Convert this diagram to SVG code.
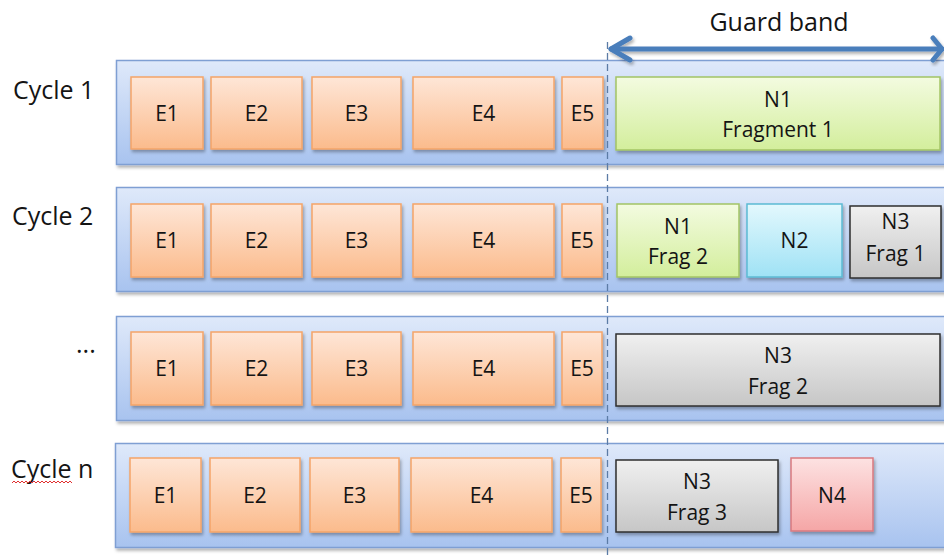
<svg xmlns="http://www.w3.org/2000/svg" width="944" height="556" viewBox="0 0 944 556">
  <defs>
    <linearGradient id="gCycle" x1="0" y1="0" x2="0" y2="1">
      <stop offset="0" stop-color="#dfe9fa"/>
      <stop offset="1" stop-color="#a8c3ef"/>
    </linearGradient>
    <linearGradient id="gE" x1="0" y1="0" x2="0" y2="1">
      <stop offset="0" stop-color="#fee6d7"/>
      <stop offset="1" stop-color="#fbbb8c"/>
    </linearGradient>
    <linearGradient id="gGreen" x1="0" y1="0" x2="0" y2="1">
      <stop offset="0" stop-color="#f3fbe0"/>
      <stop offset="1" stop-color="#d3ee9c"/>
    </linearGradient>
    <linearGradient id="gCyan" x1="0" y1="0" x2="0" y2="1">
      <stop offset="0" stop-color="#e3f8fd"/>
      <stop offset="1" stop-color="#9fe2f5"/>
    </linearGradient>
    <linearGradient id="gGray" x1="0" y1="0" x2="0" y2="1">
      <stop offset="0" stop-color="#f0f0f0"/>
      <stop offset="1" stop-color="#c6c6c6"/>
    </linearGradient>
    <linearGradient id="gPink" x1="0" y1="0" x2="0" y2="1">
      <stop offset="0" stop-color="#fde2e2"/>
      <stop offset="1" stop-color="#f5a6a6"/>
    </linearGradient>
    <filter id="shadow" x="-10%" y="-10%" width="130%" height="140%">
      <feDropShadow dx="1.5" dy="2.5" stdDeviation="1.5" flood-color="#000" flood-opacity="0.3"/>
    </filter>
    <style>
      .cycle { fill: url(#gCycle); stroke: #7f9fd3; stroke-width: 1.5; filter: url(#shadow); }
      .e { fill: url(#gE); stroke: #f5a468; stroke-width: 1.5; filter: url(#shadow); }
      .green { fill: url(#gGreen); stroke: #a3c465; stroke-width: 1.5; filter: url(#shadow); }
      .cyan { fill: url(#gCyan); stroke: #5cbad3; stroke-width: 1.5; filter: url(#shadow); }
      .gray { fill: url(#gGray); stroke: #2e2e2e; stroke-width: 1.5; filter: url(#shadow); }
      .pink { fill: url(#gPink); stroke: #d9797f; stroke-width: 1.5; filter: url(#shadow); }
      text { font-family: "Open Sans", "Liberation Sans", sans-serif; fill: #141414; }
      .lbl { font-size: 21px; text-anchor: middle; dominant-baseline: central; }
      .side { font-size: 25px; }
      .title { font-size: 25px; text-anchor: middle; }
    </style>
  </defs>

  <rect width="944" height="556" fill="#ffffff"/>

  <!-- cycle lanes -->
  <g id="cycle1">
    <rect class="cycle" x="116.5" y="60.5" width="840" height="104"/>
    <text class="side" x="13" y="99">Cycle 1</text>
  </g>
  <g id="cycle2">
    <rect class="cycle" x="116.5" y="187.5" width="840" height="104"/>
    <text class="side" x="12" y="225">Cycle 2</text>
  </g>
  <g id="cycle3">
    <rect class="cycle" x="116.5" y="316.5" width="840" height="104"/>
    <text class="side" x="76" y="353">...</text>
  </g>
  <g id="cyclen">
    <rect class="cycle" x="115.5" y="443.5" width="840" height="104"/>
    <text class="side" x="11" y="478">Cycle n</text>
    <path d="M12 483 l2 -2 l2 2 l2 -2 l2 2 l2 -2 l2 2 l2 -2 l2 2 l2 -2 l2 2 l2 -2 l2 2 l2 -2 l2 2 l2 -2 l2 2 l2 -2 l2 2 l2 -2 l2 2 l2 -2 l2 2 l2 -2 l2 2 l2 -2 l2 2 l2 -2 l2 2 l2 -2 l2 2" fill="none" stroke="#e03030" stroke-width="1"/>
  </g>

  <!-- row 1 -->
  <g id="r1-e1"><rect class="e" x="131" y="77" width="72" height="72"/><text class="lbl" x="167" y="113">E1</text></g>
  <g id="r1-e2"><rect class="e" x="211" y="77" width="91" height="72"/><text class="lbl" x="256.5" y="113">E2</text></g>
  <g id="r1-e3"><rect class="e" x="312" y="77" width="89" height="72"/><text class="lbl" x="356.5" y="113">E3</text></g>
  <g id="r1-e4"><rect class="e" x="413" y="77" width="141" height="72"/><text class="lbl" x="483.5" y="113">E4</text></g>
  <g id="r1-e5"><rect class="e" x="562" y="77" width="41" height="72"/><text class="lbl" x="582.5" y="113">E5</text></g>
  <g id="r1-n1">
    <rect class="green" x="616" y="77" width="324" height="73"/>
    <text class="lbl" x="778" y="99">N1</text>
    <text class="lbl" x="778" y="129">Fragment 1</text>
  </g>

  <!-- row 2 -->
  <g id="r2-e1"><rect class="e" x="131" y="204" width="72" height="73"/><text class="lbl" x="167" y="240">E1</text></g>
  <g id="r2-e2"><rect class="e" x="211" y="204" width="91" height="73"/><text class="lbl" x="256.5" y="240">E2</text></g>
  <g id="r2-e3"><rect class="e" x="312" y="204" width="89" height="73"/><text class="lbl" x="356.5" y="240">E3</text></g>
  <g id="r2-e4"><rect class="e" x="413" y="204" width="141" height="73"/><text class="lbl" x="483.5" y="240">E4</text></g>
  <g id="r2-e5"><rect class="e" x="562" y="204" width="40" height="73"/><text class="lbl" x="582" y="240">E5</text></g>
  <g id="r2-n1">
    <rect class="green" x="617" y="204" width="122" height="73"/>
    <text class="lbl" x="678" y="226">N1</text>
    <text class="lbl" x="678" y="256">Frag 2</text>
  </g>
  <g id="r2-n2">
    <rect class="cyan" x="747" y="204" width="95" height="73"/>
    <text class="lbl" x="794.5" y="240">N2</text>
  </g>
  <g id="r2-n3">
    <rect class="gray" x="850" y="206" width="91" height="72"/>
    <text class="lbl" x="895.5" y="221">N3</text>
    <text class="lbl" x="895.5" y="253">Frag 1</text>
  </g>

  <!-- row 3 -->
  <g id="r3-e1"><rect class="e" x="131" y="332" width="72" height="73"/><text class="lbl" x="167" y="368">E1</text></g>
  <g id="r3-e2"><rect class="e" x="211" y="332" width="91" height="73"/><text class="lbl" x="256.5" y="368">E2</text></g>
  <g id="r3-e3"><rect class="e" x="312" y="332" width="89" height="73"/><text class="lbl" x="356.5" y="368">E3</text></g>
  <g id="r3-e4"><rect class="e" x="413" y="332" width="141" height="73"/><text class="lbl" x="483.5" y="368">E4</text></g>
  <g id="r3-e5"><rect class="e" x="562" y="332" width="40" height="73"/><text class="lbl" x="582" y="368">E5</text></g>
  <g id="r3-n3">
    <rect class="gray" x="616" y="334" width="324" height="72"/>
    <text class="lbl" x="778" y="355">N3</text>
    <text class="lbl" x="778" y="386">Frag 2</text>
  </g>

  <!-- row n -->
  <g id="r4-e1"><rect class="e" x="130" y="458" width="71" height="74"/><text class="lbl" x="165.5" y="495">E1</text></g>
  <g id="r4-e2"><rect class="e" x="210" y="458" width="90" height="74"/><text class="lbl" x="255" y="495">E2</text></g>
  <g id="r4-e3"><rect class="e" x="310" y="458" width="89" height="74"/><text class="lbl" x="354.5" y="495">E3</text></g>
  <g id="r4-e4"><rect class="e" x="411" y="458" width="141" height="74"/><text class="lbl" x="481.5" y="495">E4</text></g>
  <g id="r4-e5"><rect class="e" x="561" y="458" width="40" height="74"/><text class="lbl" x="581" y="495">E5</text></g>
  <g id="r4-n3">
    <rect class="gray" x="616" y="460" width="162" height="72"/>
    <text class="lbl" x="697" y="481">N3</text>
    <text class="lbl" x="697" y="512">Frag 3</text>
  </g>
  <g id="r4-n4">
    <rect class="pink" x="791" y="458" width="82" height="73"/>
    <text class="lbl" x="832" y="495">N4</text>
  </g>

  <!-- guard band marker and boundary -->
  <g id="connectors">
    <line x1="607.5" y1="42" x2="607.5" y2="556" stroke="#5c7ca6" stroke-width="1.3" stroke-dasharray="7 4"/>
    <g fill="none" stroke="#4a7ebb" stroke-width="5" stroke-linecap="round" stroke-linejoin="round" filter="url(#shadow)">
      <line x1="611" y1="49" x2="942" y2="49"/>
      <polyline points="630,38 611,49 630,60"/>
      <polyline points="933,38 942,49 933,60"/>
    </g>
    <text class="title" x="779" y="31">Guard band</text>
  </g>
</svg>
